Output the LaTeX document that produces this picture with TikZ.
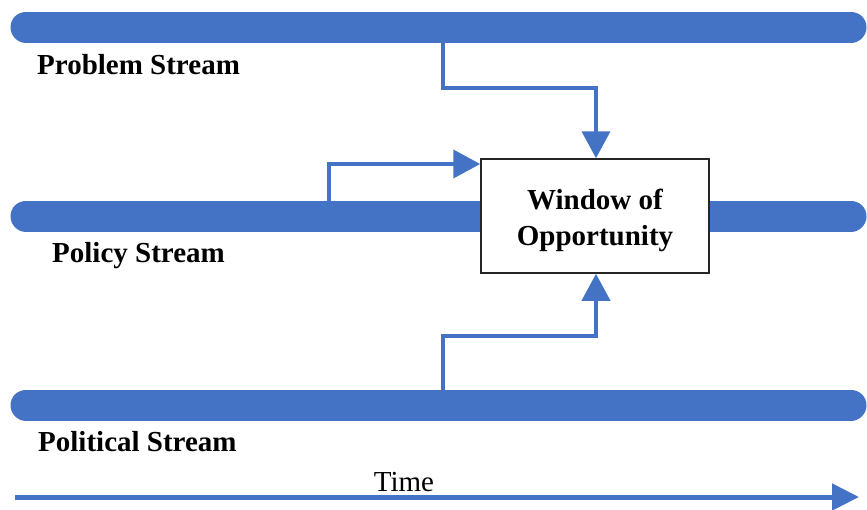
\documentclass[tikz,border=0pt]{standalone}
\usepackage{fontspec}
\setmainfont{Liberation Serif}
\usetikzlibrary{arrows.meta}
\definecolor{streamblue}{RGB}{68,114,196}
\begin{document}
\begin{tikzpicture}[x=1pt,y=-1pt,
  stream/.style={line width=31pt,line cap=round,draw=streamblue},
  feed/.style={line width=4pt,draw=streamblue,-{Triangle[length=27pt,width=28pt]}},
  label/.style={font=\fontsize{29}{34}\selectfont\bfseries,inner sep=0pt,anchor=base west},
  windowbox/.style={draw=black!85,line width=1.5pt,fill=white,minimum width=228pt,minimum height=114pt,inner sep=0pt},
  windowtext/.style={align=center,font=\fontsize{29}{36}\selectfont\bfseries,inner sep=0pt}]
\useasboundingbox (0,0) rectangle (867,509);

% the three streams
\coordinate (probL) at (26,27);   \coordinate (probR) at (851,27);
\coordinate (polL)  at (26,216);  \coordinate (polR)  at (851,216);
\coordinate (poliL) at (26,405);  \coordinate (poliR) at (851,405);
\draw[stream] (probL) -- (probR);
\draw[stream] (polL) -- (polR);
\draw[stream] (poliL) -- (poliR);

% the window where the streams meet
\node[windowbox] (win) at (595,216) {};
\node[windowtext] (wintext) at ([yshift=-4pt]win.center) {Window of\\Opportunity};

% branches feeding the window
\coordinate (probTap) at (443,27);
\coordinate (polTap)  at (329,216);
\coordinate (poliTap) at (443,405);
\draw[feed] (probTap) |- (596,88) -- (win.north -| 596,0);
\draw[feed] (polTap) |- (win.west |- 0,164);
\draw[feed] (poliTap) |- (596,336) -- (win.south -| 596,0);

% stream names
\node[label] (probT) at (37,74) {Problem Stream};
\node[label] (polT)  at (52,262) {Policy Stream};
\node[label] (poliT) at (38,451) {Political Stream};

% time axis
\coordinate (tStart) at (15,497);
\coordinate (tEnd) at (859,497);
\draw[line width=5pt,draw=streamblue,-{Triangle[length=27pt,width=26pt]}] (tStart) -- (tEnd);
\node[font=\fontsize{29}{34}\selectfont,inner sep=0pt,anchor=base] (time) at (404,491) {Time};
\end{tikzpicture}
\end{document}
